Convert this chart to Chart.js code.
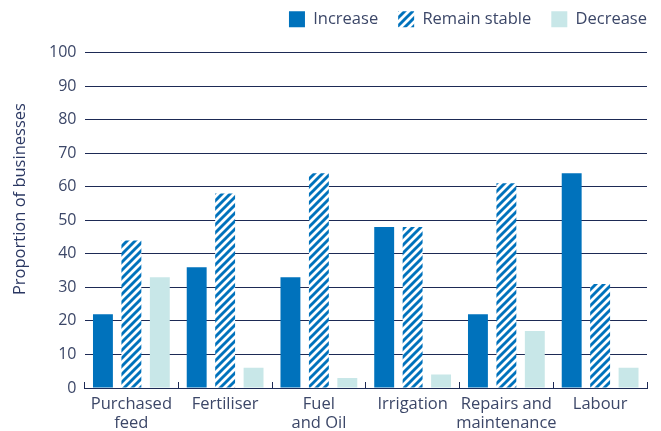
<!DOCTYPE html>
<html>
<head>
<meta charset="utf-8">
<script src="https://cdn.jsdelivr.net/npm/chart.js@4"></script>
<style>
  html, body { margin: 0; padding: 0; background: #ffffff; }
  #wrap { width: 661px; height: 431px; position: relative; }
</style>
</head>
<body>
<div id="wrap"><canvas id="chart" width="661" height="431"></canvas></div>
<script>
// Expected change in business costs, by cost item
const categories = [["Purchased", "feed"], "Fertiliser", ["Fuel", "and Oil"], "Irrigation", ["Repairs and", "maintenance"], "Labour"];
const increase = [22, 36, 33, 48, 22, 64];
const remainStable = [44, 58, 64, 48, 61, 31];
const decrease = [33, 6, 3, 4, 17, 6];
const yTicks = [0, 10, 20, 30, 40, 50, 60, 70, 80, 90, 100];
const yTitle = "Proportion of businesses";

const BLUE = "#0072bc";
const TEAL = "#c8e7e8";
const NAVY = "#1d2a55";
const TEXT = "#3c4768";
const FONT = "'Open Sans', sans-serif";

// Diagonal "////" hatch used for the "Remain stable" series
function makeHatch(color) {
  const s = 8;
  const c = document.createElement("canvas");
  c.width = s; c.height = s;
  const g = c.getContext("2d");
  g.fillStyle = "#ffffff";
  g.fillRect(0, 0, s, s);
  g.strokeStyle = color;
  g.lineWidth = 2.9;
  g.lineCap = "square";
  g.beginPath();
  g.moveTo(-2, 2); g.lineTo(2, -2);
  g.moveTo(0, s); g.lineTo(s, 0);
  g.moveTo(s - 2, s + 2); g.lineTo(s + 2, s - 2);
  g.stroke();
  return g.createPattern(c, "repeat");
}
const hatch = makeHatch(BLUE);

// Legend spacing: taller box and pushed to the right edge
const legendSpacing = {
  id: "legendSpacing",
  afterInit(chart) {
    const lg = chart.legend;
    if (!lg) return;
    const fit = lg.fit;
    lg.fit = function () { fit.call(this); this.height += 15; };
  },
  afterLayout(chart) {
    const lg = chart.legend;
    if (!lg) return;
    lg.left += 20; lg.right += 20;
  }
};

// Rotated value-axis title
const axisTitle = {
  id: "axisTitle",
  afterDraw(chart) {
    const { ctx, chartArea } = chart;
    ctx.save();
    ctx.translate(20, chartArea.top + (chartArea.bottom - chartArea.top) * 0.437);
    ctx.rotate(-Math.PI / 2);
    ctx.font = "16.5px " + FONT;
    ctx.fillStyle = "#2a3762";
    ctx.textAlign = "center";
    ctx.textBaseline = "middle";
    ctx.fillText(yTitle, 0, 0);
    ctx.restore();
  }
};

new Chart(document.getElementById("chart"), {
  type: "bar",
  data: {
    labels: categories,
    datasets: [
      { label: "Increase", data: increase, backgroundColor: BLUE },
      { label: "Remain stable", data: remainStable, backgroundColor: hatch },
      { label: "Decrease", data: decrease, backgroundColor: TEAL }
    ]
  },
  options: {
    responsive: false,
    animation: false,
    events: [],
    layout: { padding: { top: -9, right: 14, left: 0, bottom: 0 } },
    datasets: { bar: { categoryPercentage: 0.91, barPercentage: 0.70 } },
    plugins: {
      legend: {
        position: "top",
        align: "end",
        labels: {
          boxWidth: 16,
          boxHeight: 16,
          padding: 20,
          color: TEXT,
          font: { family: FONT, size: 16.5 }
        }
      },
      tooltip: { enabled: false }
    },
    scales: {
      x: {
        afterFit(s) { s.height = 43; },
        border: { display: true, color: NAVY, width: 1 },
        grid: { display: true, drawOnChartArea: false, drawTicks: true, tickLength: -6, color: NAVY, offset: true },
        ticks: { color: TEXT, padding: 12, font: { family: FONT, size: 16.5, lineHeight: 1.2 }, maxRotation: 0, autoSkip: false }
      },
      y: {
        min: 0,
        max: 100,
        afterFit(s) { s.width = 84.5; },
        afterBuildTicks(s) { s.ticks = yTicks.map(v => ({ value: v })); },
        border: { display: false },
        grid: { color: NAVY, lineWidth: 1, drawTicks: false },
        ticks: { color: TEXT, padding: 8, font: { family: FONT, size: 16 } }
      }
    }
  },
  plugins: [legendSpacing, axisTitle]
});
</script>
</body>
</html>
